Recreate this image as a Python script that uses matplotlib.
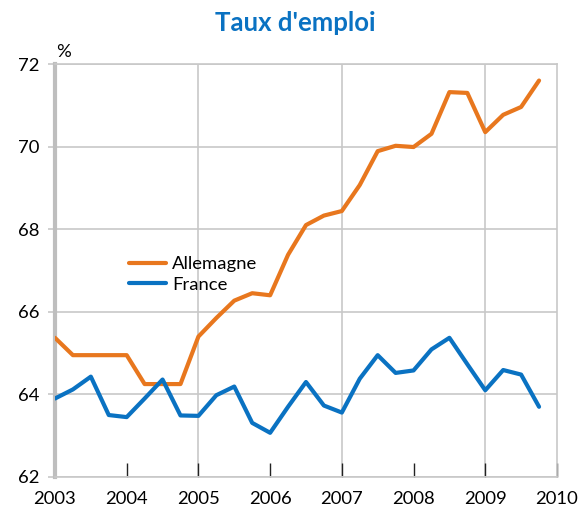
import matplotlib
matplotlib.use("Agg")
import matplotlib.pyplot as plt
import numpy as np

plt.rcParams['font.family'] = ['Lato', 'DejaVu Sans']

# quarterly series, 2003 Q1 .. 2009 Q4
quarters = np.arange(2003, 2010, 0.25)
allemagne = [65.37, 64.95, 64.95, 64.95, 64.95, 64.25, 64.25, 64.25,
             65.40, 65.85, 66.27, 66.45, 66.40, 67.38, 68.10, 68.33,
             68.44, 69.07, 69.89, 70.02, 69.99, 70.31, 71.32, 71.30,
             70.35, 70.77, 70.96, 71.60]
france = [63.90, 64.12, 64.43, 63.50, 63.45, 63.90, 64.36, 63.49,
          63.48, 63.98, 64.19, 63.31, 63.07, 63.70, 64.30, 63.73,
          63.56, 64.38, 64.95, 64.52, 64.58, 65.09, 65.37, 64.73,
          64.10, 64.59, 64.48, 63.70]
years = list(range(2003, 2011))
yticks = [62, 64, 66, 68, 70, 72]

orange = "#E8771E"
blue = "#0A72C2"
grid_col = "#C8C8C8"

fig = plt.figure(figsize=(5.8, 5.13), dpi=100)
ax = fig.add_axes([0.0948, 0.0702, 0.8655, 0.805])

for yr in years[2::2]:
    ax.axvline(yr, color=grid_col, lw=1.2, zorder=1)
ax.set_yticks(yticks)
ax.grid(axis='y', color=grid_col, lw=1.2, zorder=1)

ax.plot(quarters, allemagne, color=orange, lw=3, label="Allemagne", zorder=3,
        solid_capstyle='round')
ax.plot(quarters, france, color=blue, lw=3, label="France", zorder=3,
        solid_capstyle='round')

ax.set_xlim(2003, 2010)
ax.set_ylim(62, 72)
ax.set_xticks(years)
ax.tick_params(axis='x', direction='in', length=10, width=1, color='#222222',
               labelsize=13.3, pad=10)
ax.tick_params(axis='y', direction='out', length=5, width=1.2, color=grid_col,
               labelsize=13.3, pad=6)

for side in ['top', 'right', 'bottom']:
    ax.spines[side].set_color(grid_col)
    ax.spines[side].set_linewidth(1.2)
ax.spines['left'].set_color('#BEBEBE')
ax.spines['left'].set_linewidth(3)

ax.legend(loc='upper left', bbox_to_anchor=(0.115, 0.575), frameon=False,
          fontsize=13.3, handlelength=2.0, handletextpad=0.3, labelspacing=0.25)

fig.text(0.51, 0.955, "Taux d'emploi", color=blue, fontsize=18.5,
         fontweight='bold', ha='center', va='center')
fig.text(0.097, 0.898, "%", fontsize=13.3, ha='left', va='center')

fig.savefig("out.png", dpi=100)
